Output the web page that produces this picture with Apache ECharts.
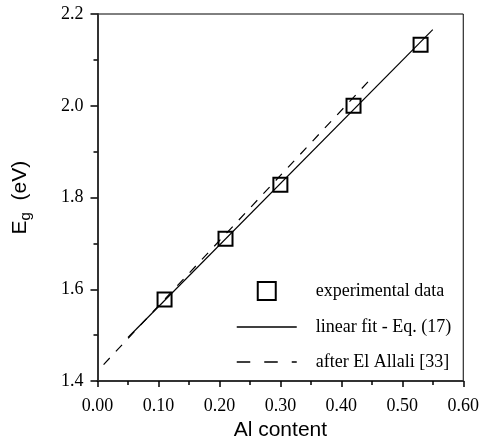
<!DOCTYPE html>
<html>
<head>
<meta charset="utf-8">
<script src="https://cdn.jsdelivr.net/npm/echarts@6/dist/echarts.min.js"></script>
<style>html,body{margin:0;padding:0;background:#fff;}#c{width:482px;height:446px;}</style>
</head>
<body>
<div id="c"></div>
<script>
var seriesNames = ['experimental data', 'linear fit - Eq. (17)', 'after El Allali [33]'];
var expX = [0.11, 0.21, 0.30, 0.42, 0.53];
var expY = [1.578, 1.71, 1.828, 2.0, 2.133];
var fitX = [0.05, 0.55];
var fitY = [1.495, 2.166];
var allaliX = [0.01, 0.45];
var allaliY = [1.436, 2.061];
var xTicks = [0, 0.1, 0.2, 0.3, 0.4, 0.5, 0.6];
var yTicks = [1.4, 1.6, 1.8, 2.0, 2.2];

function pairs(xs, ys) { return xs.map(function (x, i) { return [x, ys[i]]; }); }

var chart = echarts.init(document.getElementById('c'), null, {renderer: 'canvas'});
var serif = '"Liberation Serif", "Times New Roman", serif';
var sans = '"Liberation Sans", Arial, sans-serif';
var hidden = {color: 'rgba(0,0,0,0)', borderWidth: 0, opacity: 0};
var dash = [9, 9];
chart.setOption({
  animation: false,
  backgroundColor: '#fff',
  grid: {left: 96, right: 16, top: 14, bottom: 63, show: true, borderColor: '#000', borderWidth: 1},
  xAxis: {
    type: 'value', min: xTicks[0], max: xTicks[xTicks.length - 1], interval: 0.1,
    name: 'Al content', nameLocation: 'middle', nameGap: 38,
    nameTextStyle: {fontFamily: sans, fontSize: 21, color: '#000'},
    axisLine: {show: true, onZero: false, lineStyle: {color: '#333', width: 2}},
    axisTick: {show: true, length: 6, lineStyle: {color: '#000', width: 1.5}},
    minorTick: {show: true, splitNumber: 2, length: 4, lineStyle: {color: '#000', width: 1.5}},
    splitLine: {show: false},
    axisLabel: {fontFamily: serif, fontSize: 18, color: '#000', margin: 16,
      formatter: function (v) { return v.toFixed(2); }}
  },
  yAxis: {
    type: 'value', min: yTicks[0], max: yTicks[yTicks.length - 1], interval: 0.2,
    name: '{a|E}{b|g}{a|  (eV)}', nameLocation: 'middle', nameGap: 64, nameRotate: 90,
    nameTextStyle: {fontFamily: sans, fontSize: 21, color: '#000',
      rich: {
        a: {fontFamily: sans, fontSize: 21, color: '#000', lineHeight: 26},
        b: {fontFamily: sans, fontSize: 15, color: '#000', padding: [10, 0, 0, 0], lineHeight: 26}
      }},
    axisLine: {show: true, onZero: false, lineStyle: {color: '#333', width: 2}},
    axisTick: {show: true, length: 7, lineStyle: {color: '#000', width: 1.5}},
    minorTick: {show: true, splitNumber: 2, length: 4, lineStyle: {color: '#000', width: 1.5}},
    splitLine: {show: false},
    axisLabel: {fontFamily: serif, fontSize: 18, color: '#000', margin: 14,
      formatter: function (v) { return v.toFixed(1); }}
  },
  legend: {
    orient: 'vertical', left: 236, top: 281, padding: 0, itemWidth: 60, itemHeight: 18, itemGap: 17,
    symbolKeepAspect: true,
    textStyle: {fontFamily: serif, fontSize: 18, color: '#000', padding: [0, 0, 0, 14]},
    data: [
      {name: seriesNames[0], icon: 'path://M0 0H10V10H0Z', itemStyle: {color: 'rgba(0,0,0,0)', borderColor: '#000', borderWidth: 2}},
      {name: seriesNames[1], itemStyle: hidden, lineStyle: {color: '#000', width: 1.5, type: 'solid'}},
      {name: seriesNames[2], itemStyle: hidden, lineStyle: {color: '#000', width: 1.5, type: [13.5, 14]}}
    ]
  },
  series: [
    {
      name: seriesNames[0], type: 'scatter', symbol: 'rect', symbolSize: 14,
      itemStyle: {color: 'rgba(0,0,0,0)', borderColor: '#000', borderWidth: 2, opacity: 1},
      data: pairs(expX, expY), z: 3
    },
    {
      name: seriesNames[1], type: 'line', symbol: 'none', showSymbol: false,
      lineStyle: {color: '#000', width: 1.2, type: 'solid'}, itemStyle: {color: '#000'},
      data: pairs(fitX, fitY), z: 2
    },
    {
      name: seriesNames[2], type: 'line', symbol: 'none', showSymbol: false,
      lineStyle: {color: '#000', width: 1.2, type: dash}, itemStyle: {color: '#000'},
      data: pairs(allaliX, allaliY), z: 2
    }
  ]
});
</script>
</body>
</html>
